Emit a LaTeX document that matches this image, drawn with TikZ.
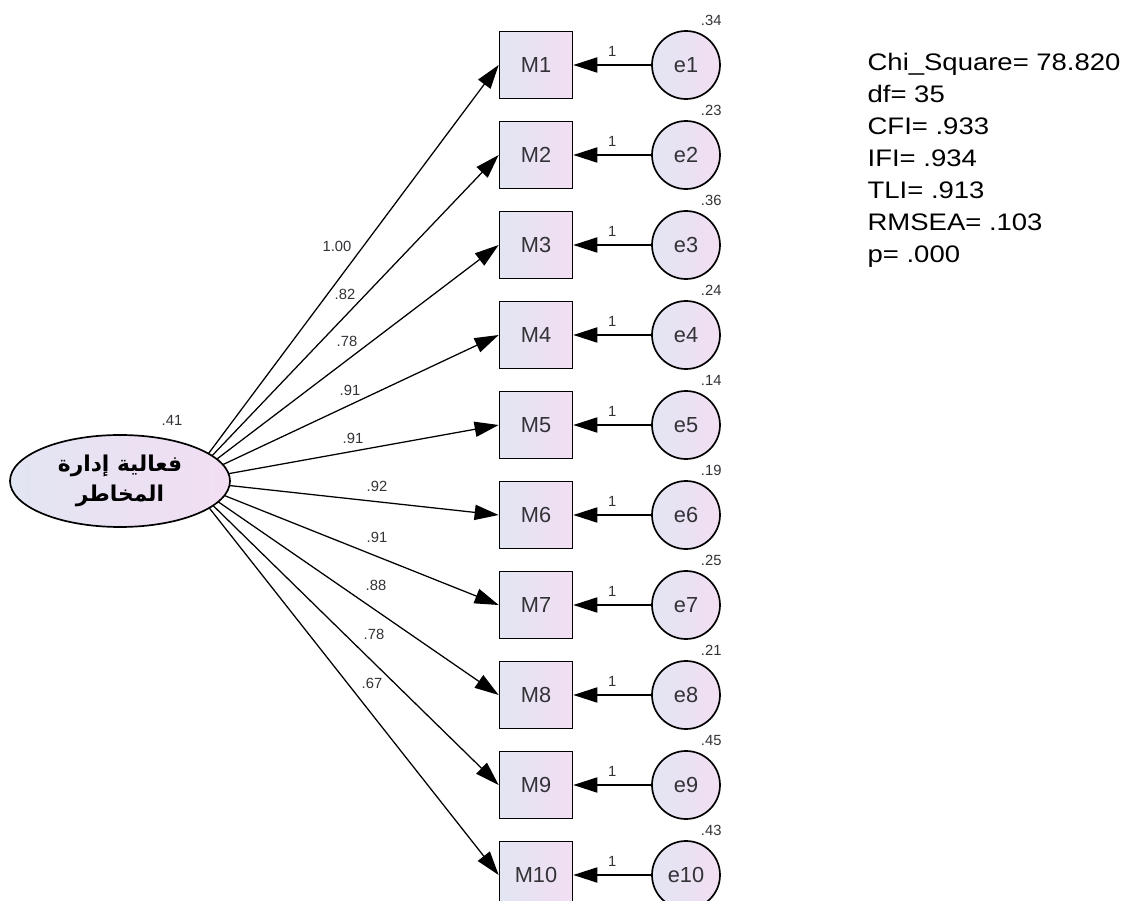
\documentclass[tikz,border=0pt]{standalone}
\usepackage{fontspec}
\setmainfont{Liberation Sans}
\newfontfamily\statfont[FakeStretch=1.15]{Liberation Sans}
\newfontfamily\arabicfont[Script=Arabic]{DejaVu Sans}
\TeXXeTstate=1
\usepackage{tikz}
\usetikzlibrary{shapes.geometric,arrows.meta}
\definecolor{fillleft}{RGB}{226,229,242}
\definecolor{fillright}{RGB}{242,222,242}
\definecolor{textgrey}{RGB}{50,50,55}

\begin{document}
\begin{tikzpicture}[>={Triangle[length=0.6cm,width=0.38cm]},line width=0.9pt,
  item/.style={draw,rectangle,line width=1.2pt,minimum width=1.825cm,minimum height=1.675cm,
    left color=fillleft,right color=fillright,text=textgrey,font=\fontsize{15.5}{18}\selectfont},
  err/.style={draw,circle,line width=1.2pt,minimum size=1.7cm,inner sep=0pt,
    left color=fillleft,right color=fillright,text=textgrey,font=\fontsize{15.5}{18}\selectfont},
  factor/.style={draw,ellipse,line width=1.2pt,minimum width=5.5cm,minimum height=2.3cm,
    left color=fillleft,right color=fillright,align=center,
    font=\arabicfont\bfseries\fontsize{15.5}{21}\selectfont},
  lbl/.style={text=textgrey,inner sep=1pt,font=\fontsize{10.5}{12}\selectfont}]
  \useasboundingbox (0,0) rectangle (28.1,-22.525);

  \node[item] (M1) at (13.4,-1.625) {M1};
  \node[item] (M2) at (13.4,-3.875) {M2};
  \node[item] (M3) at (13.4,-6.125) {M3};
  \node[item] (M4) at (13.4,-8.375) {M4};
  \node[item] (M5) at (13.4,-10.625) {M5};
  \node[item] (M6) at (13.4,-12.875) {M6};
  \node[item] (M7) at (13.4,-15.125) {M7};
  \node[item] (M8) at (13.4,-17.375) {M8};
  \node[item] (M9) at (13.4,-19.625) {M9};
  \node[item] (M10) at (13.4,-21.875) {M10};

  \node[err] (e1) at (17.15,-1.625) {e1};
  \node[err] (e2) at (17.15,-3.875) {e2};
  \node[err] (e3) at (17.15,-6.125) {e3};
  \node[err] (e4) at (17.15,-8.375) {e4};
  \node[err] (e5) at (17.15,-10.625) {e5};
  \node[err] (e6) at (17.15,-12.875) {e6};
  \node[err] (e7) at (17.15,-15.125) {e7};
  \node[err] (e8) at (17.15,-17.375) {e8};
  \node[err] (e9) at (17.15,-19.625) {e9};
  \node[err] (e10) at (17.15,-21.875) {e10};

  % loadings, drawn first so the ellipse covers their inner ends
  \coordinate (hub) at (4.7,-12.025);
  \draw[->] (hub) -- (M1.west);
  \draw[->] (hub) -- (M2.west);
  \draw[->] (hub) -- (M3.west);
  \draw[->] (hub) -- (M4.west);
  \draw[->] (hub) -- (M5.west);
  \draw[->] (hub) -- (M6.west);
  \draw[->] (hub) -- (M7.west);
  \draw[->] (hub) -- (M8.west);
  \draw[->] (hub) -- (M9.west);
  \draw[->] (hub) -- (M10.west);
  \node[lbl] (w1) at (8.425,-6.15) {1.00};
  \node[lbl] (w2) at (8.625,-7.35) {.82};
  \node[lbl] (w3) at (8.675,-8.525) {.78};
  \node[lbl] (w4) at (8.75,-9.75) {.91};
  \node[lbl] (w5) at (8.825,-10.95) {.91};
  \node[lbl] (w6) at (9.425,-12.15) {.92};
  \node[lbl] (w7) at (9.425,-13.425) {.91};
  \node[lbl] (w8) at (9.4,-14.625) {.88};
  \node[lbl] (w9) at (9.35,-15.85) {.78};
  \node[lbl] (w10) at (9.3,-17.075) {.67};

  \node[factor] (Risk) at (3.0,-12.025) {\beginR فعالية إدارة\endR\\\beginR المخاطر\endR};
  \node[lbl] (vRisk) at (4.3,-10.5) {.41};

  % errors
  \draw[->] (e1) -- node[lbl,above=0.17cm] (u1) {1} (M1);
  \draw[->] (e2) -- node[lbl,above=0.17cm] (u2) {1} (M2);
  \draw[->] (e3) -- node[lbl,above=0.17cm] (u3) {1} (M3);
  \draw[->] (e4) -- node[lbl,above=0.17cm] (u4) {1} (M4);
  \draw[->] (e5) -- node[lbl,above=0.17cm] (u5) {1} (M5);
  \draw[->] (e6) -- node[lbl,above=0.17cm] (u6) {1} (M6);
  \draw[->] (e7) -- node[lbl,above=0.17cm] (u7) {1} (M7);
  \draw[->] (e8) -- node[lbl,above=0.17cm] (u8) {1} (M8);
  \draw[->] (e9) -- node[lbl,above=0.17cm] (u9) {1} (M9);
  \draw[->] (e10) -- node[lbl,above=0.17cm] (u10) {1} (M10);
  \node[lbl] (v1) at ([shift={(0.63,1.12)}]e1) {.34};
  \node[lbl] (v2) at ([shift={(0.63,1.12)}]e2) {.23};
  \node[lbl] (v3) at ([shift={(0.63,1.12)}]e3) {.36};
  \node[lbl] (v4) at ([shift={(0.63,1.12)}]e4) {.24};
  \node[lbl] (v5) at ([shift={(0.63,1.12)}]e5) {.14};
  \node[lbl] (v6) at ([shift={(0.63,1.12)}]e6) {.19};
  \node[lbl] (v7) at ([shift={(0.63,1.12)}]e7) {.25};
  \node[lbl] (v8) at ([shift={(0.63,1.12)}]e8) {.21};
  \node[lbl] (v9) at ([shift={(0.63,1.12)}]e9) {.45};
  \node[lbl] (v10) at ([shift={(0.63,1.12)}]e10) {.43};

  \node[anchor=north west,inner sep=0pt,align=left,font=\statfont\fontsize{17}{22.8}\selectfont]
  (Fit) at (21.675,-1.31) {Chi\_Square= 78.820\\df= 35\\CFI= .933\\IFI= .934\\TLI= .913\\RMSEA= .103\\p= .000};
\end{tikzpicture}
\end{document}
